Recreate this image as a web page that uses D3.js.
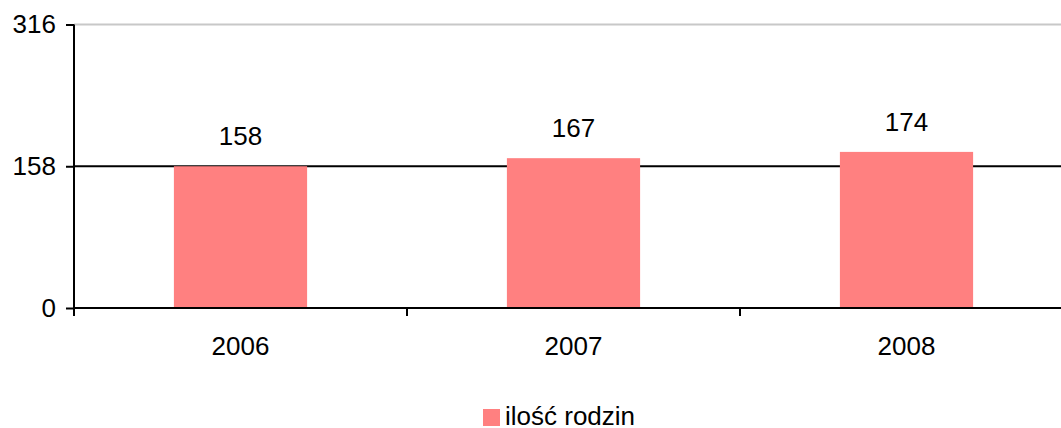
<!DOCTYPE html>
<meta charset="utf-8">
<style>
body { margin: 0; background: #fff; }
text { font-family: "Liberation Sans", Arial, sans-serif; fill: #000; }
</style>
<body>
<script src="https://d3js.org/d3.v7.min.js"></script>
<script>
var years = ['2006', '2007', '2008']
var values = [158, 167, 174]
var yTicks = [0, 158, 316]
var seriesName = 'ilość rodzin'

var width = 1061
var height = 428
var plotLeft = 74, plotTop = 24.5, plotBottom = 308

var svg = d3.select('body').append('svg')
    .attr('width', width)
    .attr('height', height)

var x = d3.scaleBand()
    .domain(years)
    .range([plotLeft, 1073])
    .paddingInner(0.6)
    .paddingOuter(0.3)

var y = d3.scaleLinear()
    .domain([0, 316])
    .range([plotBottom, plotTop])

// top gridline (light)
svg.append('line')
    .attr('x1', plotLeft).attr('x2', width)
    .attr('y1', y(316)).attr('y2', y(316))
    .attr('stroke', '#c8c8c8')
    .attr('stroke-width', 2)

// middle gridline, behind bars
svg.append('line')
    .attr('x1', plotLeft).attr('x2', width)
    .attr('y1', y(158)).attr('y2', y(158))
    .attr('stroke', '#000')
    .attr('stroke-width', 2)

// bars
svg.append('g').selectAll('rect')
    .data(values)
    .enter().append('rect')
    .attr('x', function (d, i) { return x(years[i]) })
    .attr('y', function (d) { return y(d) })
    .attr('width', x.bandwidth())
    .attr('height', function (d) { return plotBottom - y(d) })
    .attr('fill', '#ff8080')

// value labels
svg.append('g').selectAll('text')
    .data(values)
    .enter().append('text')
    .attr('x', function (d, i) { return x(years[i]) + x.bandwidth() / 2 })
    .attr('y', function (d) { return y(d) - 21 })
    .attr('text-anchor', 'middle')
    .style('font-size', '26px')
    .text(function (d) { return d })

// y axis
var yAxis = svg.append('g')
    .attr('transform', 'translate(' + plotLeft + ',0)')
    .call(d3.axisLeft(y).tickValues(yTicks).tickSize(8).tickPadding(10))
yAxis.select('.domain').attr('stroke-width', 2)
    .attr('d', 'M0,' + y(316) + 'V' + (plotBottom + 8))
yAxis.selectAll('.tick line').attr('stroke-width', 2)
yAxis.selectAll('.tick text').style('font-size', '26px')
    .style('font-family', '"Liberation Sans", Arial, sans-serif')

// x axis
var xAxis = svg.append('g')
    .attr('transform', 'translate(0,' + plotBottom + ')')
xAxis.append('line')
    .attr('x1', plotLeft).attr('x2', width)
    .attr('stroke', '#000').attr('stroke-width', 2)
xAxis.selectAll('line.tk')
    .data([x.step(), 2 * x.step()])
    .enter().append('line')
    .attr('class', 'tk')
    .attr('x1', function (d) { return plotLeft + d })
    .attr('x2', function (d) { return plotLeft + d })
    .attr('y1', 0).attr('y2', 8)
    .attr('stroke', '#000').attr('stroke-width', 2)
xAxis.selectAll('text')
    .data(years)
    .enter().append('text')
    .attr('x', function (d) { return x(d) + x.bandwidth() / 2 })
    .attr('y', 47)
    .attr('text-anchor', 'middle')
    .style('font-size', '26px')
    .text(function (d) { return d })

// legend
svg.append('rect')
    .attr('x', 483).attr('y', 409)
    .attr('width', 17).attr('height', 17)
    .attr('fill', '#ff8080')
svg.append('text')
    .attr('x', 505).attr('y', 425)
    .style('font-size', '26px')
    .text(seriesName)
</script>
</body>
